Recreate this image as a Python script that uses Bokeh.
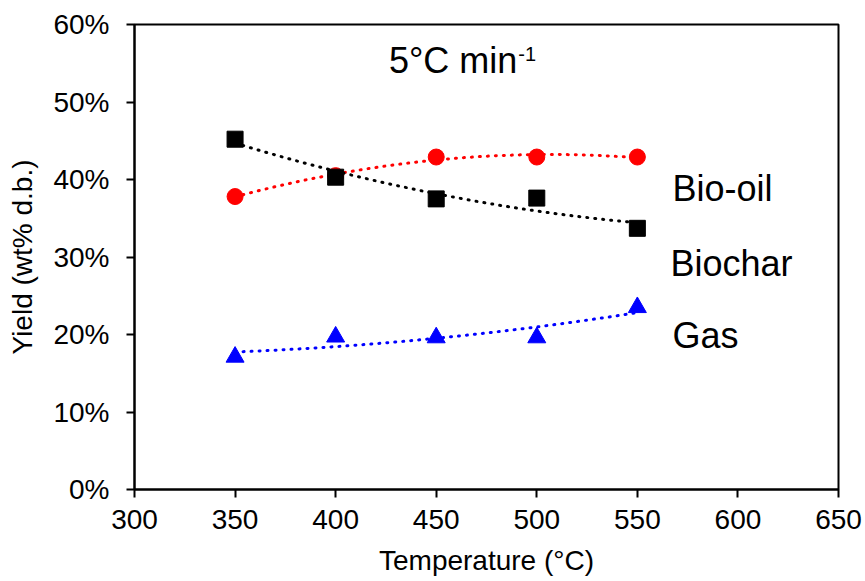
import numpy as np
from bokeh.plotting import figure
from bokeh.models import Range1d, NumeralTickFormatter, FixedTicker, Label
from bokeh.embed import file_html
from bokeh.resources import INLINE

temperature = [350, 400, 450, 500, 550]
bio_oil = [0.378, 0.405, 0.429, 0.429, 0.429]
biochar = [0.452, 0.403, 0.375, 0.376, 0.337]
gas = [0.171, 0.197, 0.196, 0.196, 0.235]

x_ticks = [300, 350, 400, 450, 500, 550, 600, 650]
y_ticks = [0.0, 0.1, 0.2, 0.3, 0.4, 0.5, 0.6]

FONT = "Liberation Sans"

p = figure(width=865, height=581, output_backend="svg", toolbar_location=None,
           x_range=Range1d(300, 650), y_range=Range1d(0, 0.6),
           min_border_left=134, min_border_right=27, min_border_top=24, min_border_bottom=92)
p.grid.visible = False
p.outline_line_color = "black"
p.outline_line_width = 2
p.background_fill_color = "white"
p.border_fill_color = "white"

for ax in (p.xaxis[0], p.yaxis[0]):
    ax.axis_line_width = 2
    ax.major_tick_line_width = 2
    ax.major_tick_out = 8
    ax.major_tick_in = 0
    ax.minor_tick_out = 0
    ax.minor_tick_in = 0
    ax.major_label_text_font = FONT
    ax.major_label_text_font_size = "28px"
    ax.major_label_text_color = "black"
    ax.axis_label_text_font = FONT
    ax.axis_label_text_font_size = "28px"
    ax.axis_label_text_font_style = "normal"
    ax.axis_label_text_color = "black"

p.xaxis.ticker = FixedTicker(ticks=x_ticks)
p.yaxis.ticker = FixedTicker(ticks=y_ticks)
p.yaxis.formatter = NumeralTickFormatter(format="0%")
p.xaxis.axis_label = "Temperature (°C)"
p.yaxis.axis_label = "Yield (wt% d.b.)"
p.xaxis.major_label_standoff = 12
p.yaxis.major_label_standoff = 17
p.xaxis.axis_label_standoff = 13
p.yaxis.axis_label_standoff = 12

xs = np.linspace(350, 550, 101)
for series, color in ((bio_oil, "red"), (biochar, "black"), (gas, "blue")):
    coef = np.polyfit(temperature, series, 2)
    p.line(xs, np.polyval(coef, xs), line_color=color, line_width=3,
           line_dash="1 7", line_cap="round")

p.scatter(temperature, bio_oil, marker="circle", size=16, color="red")
p.scatter(temperature, biochar, marker="square", size=16, color="black")
p.scatter(temperature, gas, marker="triangle", size=18, color="blue")

for txt, xv, yv in (("Bio-oil", 567.5, 0.389), ("Biochar", 566.5, 0.292), ("Gas", 567.5, 0.199)):
    p.add_layout(Label(x=xv, y=yv, text=txt, text_font=FONT, text_font_size="36px",
                       text_baseline="middle", text_color="black"))

p.add_layout(Label(x=426.5, y=0.554, text="5°C min", text_font=FONT, text_font_size="36px",
                   text_baseline="middle", text_color="black"))
p.add_layout(Label(x=490.8, y=0.562, text="-1", text_font=FONT, text_font_size="20px",
                   text_baseline="middle", text_color="black"))

open("out.html", "w").write(file_html(p, INLINE))
